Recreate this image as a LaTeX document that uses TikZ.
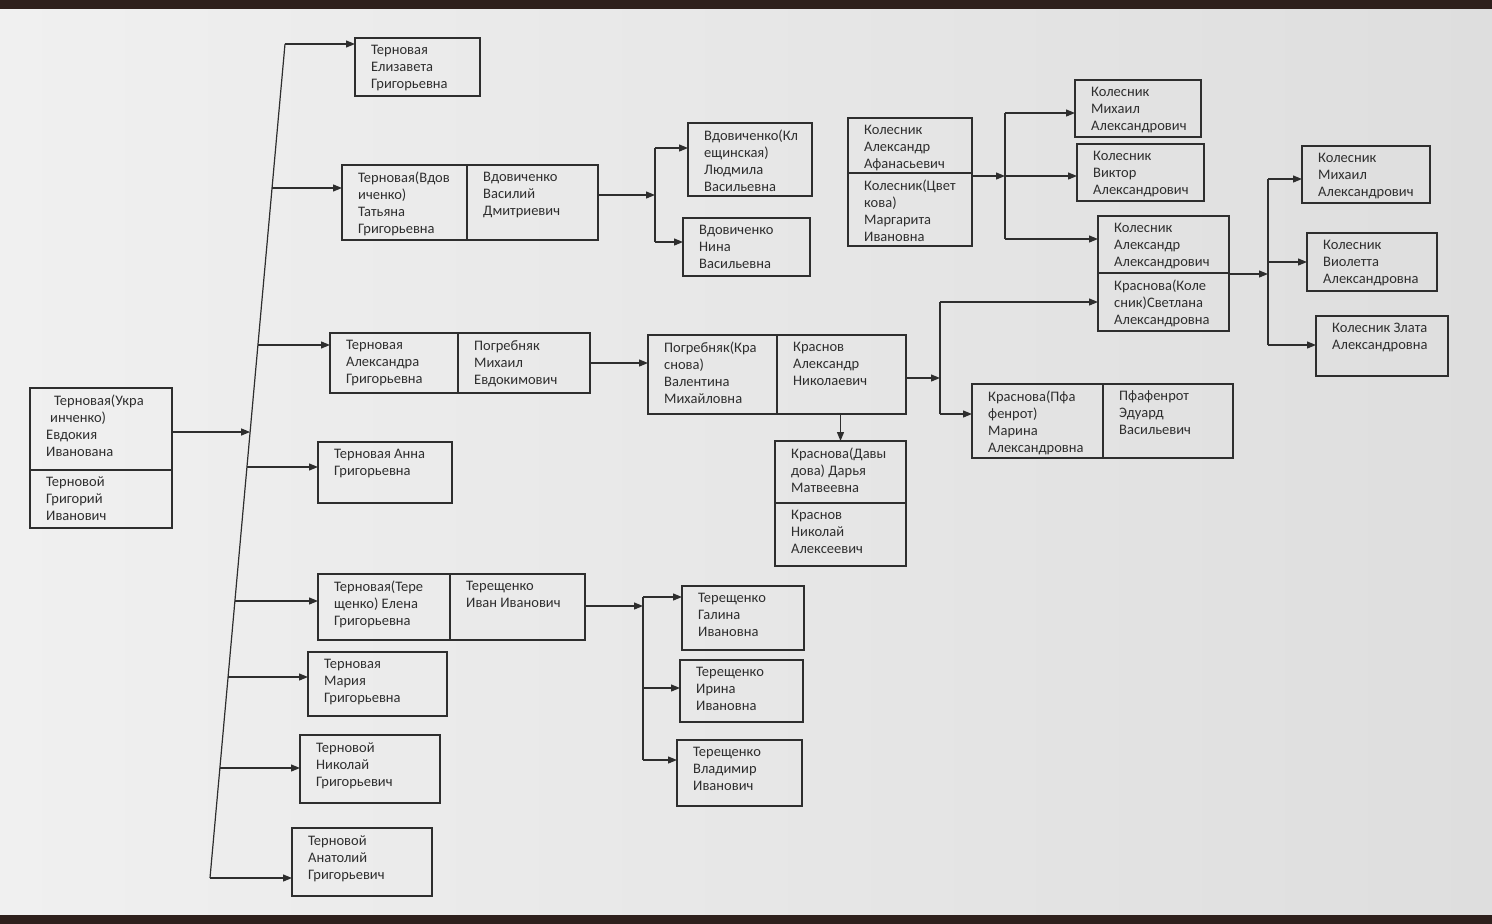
\documentclass[tikz,border=0pt]{standalone}
\usepackage{fontspec}
\setmainfont{Carlito}
\usetikzlibrary{arrows.meta,calc}
\definecolor{ink}{HTML}{2E2E2E}
\definecolor{paperL}{HTML}{F0F0F0}
\definecolor{paperR}{HTML}{DEDEDE}
\definecolor{edge}{HTML}{2E201C}
\tikzset{
  box/.style={draw=ink, line width=1.2pt, rectangle, inner sep=0pt, outer sep=0pt, anchor=north west},
  txt/.style={anchor=north west, inner sep=0pt, align=left, text=ink, font=\fontsize{14.5}{17}\selectfont},
  conn/.style={draw=ink, line width=1.2pt},
  arr/.style={conn, -{Triangle[length=9pt,width=7pt]}}
}
\newcommand\famBox[6]{%
  \node[box, minimum width={(#4-#2)*1pt}, minimum height={(#5-#3)*1pt}] (#1) at (#2,#3) {};
  \node[txt] (#1t) at ($(#1.north west)+(16,7)$) {#6};
}
\begin{document}
\begin{tikzpicture}[x=1pt,y=-1pt]
\useasboundingbox (0,0) rectangle (1492,924);
\shade[left color=paperL, right color=paperR] (0,0) rectangle (1492,924);
\fill[edge] (0,0) rectangle (1492,9);
\fill[edge] (0,915) rectangle (1492,924);

% root
\famBox{rootA}{30}{388}{172}{470}{\hspace*{8pt}Терновая(Укра\\\hspace*{4pt}инченко)\\Евдокия\\Иванована}
\famBox{rootB}{30}{470}{172}{528}{Терновой\\Григорий\\Иванович}

% children of root
\famBox{eliz}{355}{38}{480}{96}{Терновая\\Елизавета\\Григорьевна}
\famBox{tatA}{342}{165}{467}{240}{Терновая(Вдов\\иченко)\\Татьяна\\Григорьевна}
\famBox{tatB}{467}{165}{598}{240}{Вдовиченко\\Василий\\Дмитриевич}
\famBox{aleA}{330}{333}{458}{393}{Терновая\\Александра\\Григорьевна}
\famBox{aleB}{458}{333}{590}{393}{Погребняк\\Михаил\\Евдокимович}
\famBox{anna}{318}{442}{452}{503}{Терновая Анна\\Григорьевна}
\famBox{eleA}{318}{574}{450}{640}{Терновая(Тере\\щенко) Елена\\Григорьевна}
\famBox{eleB}{450}{574}{585}{640}{Терещенко\\Иван Иванович}
\famBox{mari}{308}{652}{447}{716}{Терновая\\Мария\\Григорьевна}
\famBox{niko}{300}{735}{440}{803}{Терновой\\Николай\\Григорьевич}
\famBox{anat}{292}{828}{432}{896}{Терновой\\Анатолий\\Григорьевич}

% Vdovichenko children
\famBox{lyud}{688}{123}{812}{196}{Вдовиченко(Кл\\ещинская)\\Людмила\\Васильевна}
\famBox{nina}{683}{218}{810}{276}{Вдовиченко\\Нина\\Васильевна}

% Pogrebnyak / Krasnov
\famBox{valA}{648}{335}{777}{414}{Погребняк(Кра\\снова)\\Валентина\\Михайловна}
\famBox{valB}{777}{335}{906}{414}{Краснов\\Александр\\Николаевич}
\famBox{darA}{775}{441}{906}{503}{Краснова(Давы\\дова) Дарья\\Матвеевна}
\famBox{darB}{775}{503}{906}{566}{Краснов\\Николай\\Алексеевич}
\famBox{marA}{972}{384}{1103}{458}{Краснова(Пфа\\фенрот)\\Марина\\Александровна}
\famBox{marB}{1103}{384}{1233}{458}{Пфафенрот\\Эдуард\\Васильевич}

% Kolesnik
\famBox{kolA}{848}{118}{972}{173}{Колесник\\Александр\\Афанасьевич}
\famBox{kolB}{848}{173}{972}{246}{Колесник(Цвет\\кова)\\Маргарита\\Ивановна}
\famBox{mikh}{1075}{80}{1201}{137}{Колесник\\Михаил\\Александрович}
\famBox{vikt}{1077}{144}{1204}{201}{Колесник\\Виктор\\Александрович}
\famBox{sasA}{1098}{216}{1229}{273}{Колесник\\Александр\\Александрович}
\famBox{sasB}{1098}{273}{1229}{331}{Краснова(Коле\\сник)Светлана\\Александровна}
\famBox{mik2}{1302}{146}{1430}{203}{Колесник\\Михаил\\Александрович}
\famBox{viol}{1307}{233}{1437}{291}{Колесник\\Виолетта\\Александровна}
\famBox{zlat}{1316}{316}{1448}{376}{Колесник Злата\\Александровна}

% Tereshchenko children
\famBox{gali}{682}{586}{804}{650}{Терещенко\\Галина\\Ивановна}
\famBox{irin}{680}{660}{803}{722}{Терещенко\\Ирина\\Ивановна}
\famBox{vlad}{677}{740}{802}{806}{Терещенко\\Владимир\\Иванович}

% ---- trunk ----
\coordinate (ttop) at (285,44);
\coordinate (tbot) at (210,878);
\draw[conn] (ttop) -- (tbot);
\coordinate (bEliz) at (ttop);
\coordinate (bTat)  at ($(ttop)!{(188-44)/834}!(tbot)$);
\coordinate (bAle)  at ($(ttop)!{(345-44)/834}!(tbot)$);
\coordinate (bRoot) at ($(ttop)!{(432-44)/834}!(tbot)$);
\coordinate (bAnna) at ($(ttop)!{(467-44)/834}!(tbot)$);
\coordinate (bEle)  at ($(ttop)!{(601-44)/834}!(tbot)$);
\coordinate (bMari) at ($(ttop)!{(677-44)/834}!(tbot)$);
\coordinate (bNiko) at ($(ttop)!{(768-44)/834}!(tbot)$);
\coordinate (bAnat) at (tbot);
\draw[arr] (bRoot -| rootA.east) -- (bRoot);
\draw[arr] (bEliz) -- (bEliz -| eliz.west);
\draw[arr] (bTat) -- (bTat -| tatA.west);
\draw[arr] (bAle) -- (bAle -| aleA.west);
\draw[arr] (bAnna) -- (bAnna -| anna.west);
\draw[arr] (bEle) -- (bEle -| eleA.west);
\draw[arr] (bMari) -- (bMari -| mari.west);
\draw[arr] (bNiko) -- (bNiko -| niko.west);
\draw[arr] (bAnat) -- (bAnat -| anat.west);

% ---- Vdovichenko ----
\coordinate (vJ) at (655,195);
\coordinate (vT) at (655,148);
\coordinate (vB) at (655,242);
\draw[arr] (vJ -| tatB.east) -- (vJ);
\draw[conn] (vT) -- (vB);
\draw[arr] (vT) -- (vT -| lyud.west);
\draw[arr] (vB) -- (vB -| nina.west);

% ---- Pogrebnyak ----
\draw[arr] (aleB.east) -- (aleB.east -| valA.west);
\draw[arr] (darA.north |- valB.south) -- (darA.north);
\coordinate (kJ) at (940,378);
\coordinate (kT) at (940,302);
\coordinate (kB) at (940,414);
\draw[arr] (kJ -| valB.east) -- (kJ);
\draw[conn] (kT) -- (kB);
\draw[arr] (kT) -- (kT -| sasB.west);
\draw[arr] (kB) -- (kB -| marA.west);

% ---- Kolesnik ----
\coordinate (cJ) at (1005,176);
\coordinate (cT) at (1005,113);
\coordinate (cB) at (1005,239);
\draw[arr] (cJ -| kolB.east) -- (cJ);
\draw[conn] (cT) -- (cB);
\draw[arr] (cT) -- (cT -| mikh.west);
\draw[arr] (cJ) -- (cJ -| vikt.west);
\draw[arr] (cB) -- (cB -| sasA.west);

\coordinate (sJ) at (1268,274);
\coordinate (sT) at (1268,179);
\coordinate (sM) at (1268,262);
\coordinate (sB) at (1268,345);
\draw[arr] (sJ -| sasA.east) -- (sJ);
\draw[conn] (sT) -- (sB);
\draw[arr] (sT) -- (sT -| mik2.west);
\draw[arr] (sM) -- (sM -| viol.west);
\draw[arr] (sB) -- (sB -| zlat.west);

% ---- Tereshchenko ----
\coordinate (tJ) at (643,606);
\coordinate (tT) at (643,597);
\coordinate (tM) at (643,688);
\coordinate (tB) at (643,760);
\draw[arr] (tJ -| eleB.east) -- (tJ);
\draw[conn] (tT) -- (tB);
\draw[arr] (tT) -- (tT -| gali.west);
\draw[arr] (tM) -- (tM -| irin.west);
\draw[arr] (tB) -- (tB -| vlad.west);
\end{tikzpicture}
\end{document}
